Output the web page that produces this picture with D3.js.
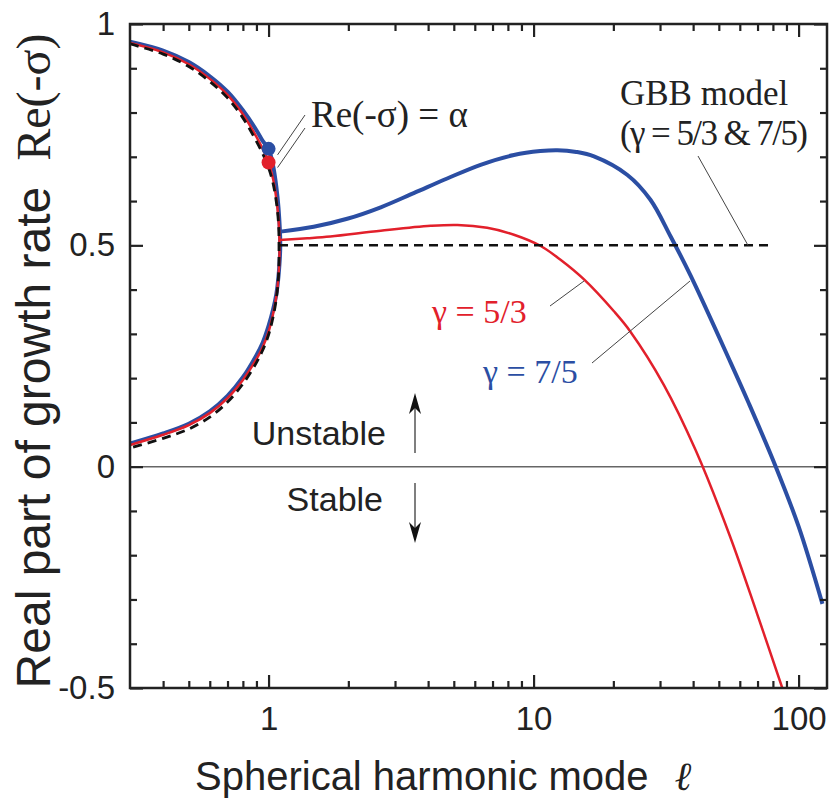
<!DOCTYPE html>
<html>
<head>
<meta charset="utf-8">
<script src="https://cdn.jsdelivr.net/npm/d3@7"></script>
<style>
    body { margin: 0; background: #fff; }
    svg { display: block; }
    .sans { font-family: "Liberation Sans", Arial, Helvetica, sans-serif; }
    .serif { font-family: "Liberation Serif", "Times New Roman", serif; }
</style>
</head>
<body>
<svg id="chart" width="830" height="803"></svg>
<script>
// ℓ grid shared by the two real branches (upper / lower) left of the tip
const circleEll = [0.3, 0.4, 0.5, 0.6, 0.7, 0.8, 0.9, 0.95, 1.0, 1.04, 1.07, 1.09];
// tip of each branch pair: gbb, red, blue
const branchTip = [1.095, 1.10, 1.107];

const gbbUpper = [0.955, 0.932, 0.904, 0.870, 0.833, 0.788, 0.735, 0.707, 0.675, 0.640, 0.598, 0.550];
const gbbLower = [0.042, 0.064, 0.085, 0.112, 0.146, 0.187, 0.235, 0.263, 0.298, 0.338, 0.380, 0.430];
const redUpper = [0.957, 0.936, 0.909, 0.876, 0.840, 0.796, 0.745, 0.718, 0.687, 0.650, 0.605, 0.560];
const redLower = [0.049, 0.072, 0.094, 0.121, 0.155, 0.196, 0.243, 0.270, 0.305, 0.345, 0.385, 0.430];
const blueUpper = [0.960, 0.940, 0.914, 0.882, 0.847, 0.805, 0.760, 0.736, 0.718, 0.680, 0.632, 0.585];
const blueLower = [0.052, 0.075, 0.097, 0.125, 0.160, 0.202, 0.252, 0.280, 0.318, 0.355, 0.390, 0.430];

// complex branch, Re(-sigma)
const gbbFlatEll = [1.095, 80.7];
const gbbFlatVal = [0.5, 0.5];
const redEll = [1.10, 1.4, 1.71, 2.65, 4.09, 5.16, 6.68, 8.43, 10.6, 12.6, 15.5, 20.1, 23.2, 31, 40.9, 55, 69.8, 86.8];
const redVal = [0.512, 0.516, 0.520, 0.533, 0.544, 0.546, 0.5395, 0.524, 0.499, 0.468, 0.423, 0.351, 0.305, 0.185, 0.037, -0.156, -0.333, -0.5];
const blueEll = [1.11, 1.48, 1.98, 2.65, 3.53, 4.72, 6.31, 8.43, 10.6, 12.3, 14.5, 16.9, 22.6, 27.6, 32.9, 39.1, 55.4, 65, 82, 100, 123];
const blueVal = [0.531, 0.542, 0.560, 0.586, 0.618, 0.651, 0.682, 0.704, 0.713, 0.715, 0.711, 0.701, 0.659, 0.603, 0.520, 0.432, 0.235, 0.142, 0, -0.135, -0.31];

// Re(-sigma) = alpha points at l = 1 (blue, red)
const dotEll = [1, 1];
const dotVal = [0.718, 0.687];

const xMajor = [1, 10, 100];
const xMinor = [0.4, 0.5, 0.6, 0.7, 0.8, 0.9, 2, 3, 4, 5, 6, 7, 8, 9, 20, 30, 40, 50, 60, 70, 80, 90];
const yMajor = [-0.5, 0, 0.5, 1];
const yMinor = [-0.4, -0.3, -0.2, -0.1, 0.1, 0.2, 0.3, 0.4, 0.6, 0.7, 0.8, 0.9];

const BLUE = '#2b4ea3';
const RED = '#e2202b';

let svg = d3.select('#chart');
let mLeft = 130, mRight = 827, mTop = 24, mBottom = 688;

let x = d3.scaleLog().domain([0.3, 128]).range([mLeft, mRight]);
let y = d3.scaleLinear().domain([-0.5, 1]).range([mBottom, mTop]);

let line = d3.line()
    .x(d => x(d[0]))
    .y(d => y(d[1]))
    .curve(d3.curveCatmullRom.alpha(0.5));

// upper branch -> tip -> lower branch, as one path
let branch = (upper, lower, tip) => {
    let pts = circleEll.map((l, i) => [l, upper[i]]);
    pts.push([tip, 0.5]);
    for (let i = circleEll.length - 1; i >= 0; i--) pts.push([circleEll[i], lower[i]]);
    return pts;
};
let zip = (ls, vs) => ls.map((l, i) => [l, vs[i]]);

svg.append('clipPath').attr('id', 'plot')
    .append('rect').attr('x', mLeft).attr('y', mTop)
    .attr('width', mRight - mLeft).attr('height', mBottom - mTop);

// zero line
svg.append('line')
    .attr('x1', mLeft).attr('x2', mRight)
    .attr('y1', y(0)).attr('y2', y(0))
    .attr('stroke', '#666').attr('stroke-width', 1.5);

let curves = svg.append('g').attr('clip-path', 'url(#plot)').attr('fill', 'none');

curves.append('path').attr('d', line(branch(blueUpper, blueLower, branchTip[2])))
    .attr('stroke', BLUE).attr('stroke-width', 4);
curves.append('path').attr('d', line(zip(blueEll, blueVal)))
    .attr('stroke', BLUE).attr('stroke-width', 4);
curves.append('path').attr('d', line(branch(redUpper, redLower, branchTip[1])))
    .attr('stroke', RED).attr('stroke-width', 2.5);
curves.append('path').attr('d', line(zip(redEll, redVal)))
    .attr('stroke', RED).attr('stroke-width', 2.5);
curves.append('path').attr('d', line(branch(gbbUpper, gbbLower, branchTip[0])))
    .attr('stroke', '#111').attr('stroke-width', 2.8).attr('stroke-dasharray', '9,6');
curves.append('path').attr('d', d3.line().x(d => x(d[0])).y(d => y(d[1]))(zip(gbbFlatEll, gbbFlatVal)))
    .attr('stroke', '#111').attr('stroke-width', 2.5).attr('stroke-dasharray', '9,6');

svg.selectAll('circle.alpha')
    .data(zip(dotEll, dotVal))
    .join('circle')
    .attr('class', 'alpha')
    .attr('cx', d => x(d[0]))
    .attr('cy', d => y(d[1]))
    .attr('r', 7)
    .attr('fill', (d, i) => i === 0 ? BLUE : RED);

// axes: ticks point inward, frame drawn separately
let axis = (gen, values, size, labels) => gen.tickValues(values).tickSize(-size)
    .tickFormat(labels ? (d => String(d)) : '');

svg.append('g').attr('transform', `translate(0,${mBottom})`)
    .call(axis(d3.axisBottom(x), xMinor, 7, false));
svg.append('g').attr('transform', `translate(0,${mBottom})`)
    .call(axis(d3.axisBottom(x), xMajor, 13, true).tickPadding(19));
svg.append('g').attr('transform', `translate(0,${mTop})`)
    .call(axis(d3.axisTop(x), xMinor, 7, false));
svg.append('g').attr('transform', `translate(0,${mTop})`)
    .call(axis(d3.axisTop(x), xMajor, 13, false));
svg.append('g').attr('transform', `translate(${mLeft},0)`)
    .call(axis(d3.axisLeft(y), yMinor, 7, false));
svg.append('g').attr('transform', `translate(${mLeft},0)`)
    .call(axis(d3.axisLeft(y), yMajor, 13, true).tickPadding(15));
svg.append('g').attr('transform', `translate(${mRight},0)`)
    .call(axis(d3.axisRight(y), yMinor, 7, false));
svg.append('g').attr('transform', `translate(${mRight},0)`)
    .call(axis(d3.axisRight(y), yMajor, 13, false));

svg.selectAll('.domain').remove();
svg.selectAll('.tick line').attr('stroke', '#222').attr('stroke-width', 2.2);
svg.selectAll('.tick text')
    .attr('class', 'sans')
    .attr('font-size', 33)
    .attr('fill', '#222');

svg.append('rect')
    .attr('x', mLeft).attr('y', mTop)
    .attr('width', mRight - mLeft).attr('height', mBottom - mTop)
    .attr('fill', 'none').attr('stroke', '#222').attr('stroke-width', 2.5);

// axis titles
svg.append('text')
    .attr('class', 'sans')
    .attr('x', 195).attr('y', 790)
    .attr('font-size', 40).attr('fill', '#222')
    .text('Spherical harmonic mode')
    .append('tspan')
    .attr('class', 'serif')
    .attr('dx', 26)
    .attr('font-style', 'italic')
    .text('ℓ');

let ylab = svg.append('text')
    .attr('class', 'sans')
    .attr('transform', 'translate(50,361) rotate(-90)')
    .attr('text-anchor', 'middle')
    .attr('font-size', 48).attr('fill', '#222');
ylab.append('tspan').text('Real part of growth rate');
ylab.append('tspan').attr('class', 'serif').attr('dx', 26).text('Re(-σ)');

// annotations
let note = (tx, ty, size, color, cls, str) => svg.append('text')
    .attr('class', cls).attr('x', tx).attr('y', ty)
    .attr('font-size', size).attr('fill', color).text(str);
let leader = (x1, y1, x2, y2) => svg.append('line')
    .attr('x1', x1).attr('y1', y1).attr('x2', x2).attr('y2', y2)
    .attr('stroke', '#444').attr('stroke-width', 1);

note(311, 127, 37, '#222', 'serif', 'Re(-σ) = α');
leader(x(dotEll[0]) + 9, y(dotVal[0]) + 6, 305, 115);
leader(x(dotEll[1]) + 9, y(dotVal[1]) + 5, 305, 128);

note(620, 105, 35, '#222', 'serif', 'GBB model');
note(620, 145, 35, '#222', 'serif', '(γ = 5/3 & 7/5)')
    .attr('textLength', 188).attr('lengthAdjust', 'spacing');
leader(698, 156, 748, y(0.5));

note(432, 323, 34, RED, 'serif', 'γ = 5/3');
leader(550, 306, 584, 281);
note(483, 383, 34, BLUE, 'serif', 'γ = 7/5');
leader(592, 363, 690, 281);

note(386, 445, 34, '#222', 'sans', 'Unstable').attr('text-anchor', 'end');
note(383, 511, 34, '#222', 'sans', 'Stable').attr('text-anchor', 'end');

// stability arrows
let arrow = (ax, y0, y1) => {
    let dir = y1 < y0 ? 1 : -1;
    svg.append('line')
        .attr('x1', ax).attr('x2', ax).attr('y1', y0).attr('y2', y1 + dir * 10)
        .attr('stroke', '#555').attr('stroke-width', 1.5);
    svg.append('path')
        .attr('d', `M${ax},${y1} L${ax - 6},${y1 + dir * 21} L${ax},${y1 + dir * 15} L${ax + 6},${y1 + dir * 21} Z`)
        .attr('fill', '#111');
};
arrow(415, 453, 393);
arrow(415, 483, 543);
</script>
</body>
</html>
